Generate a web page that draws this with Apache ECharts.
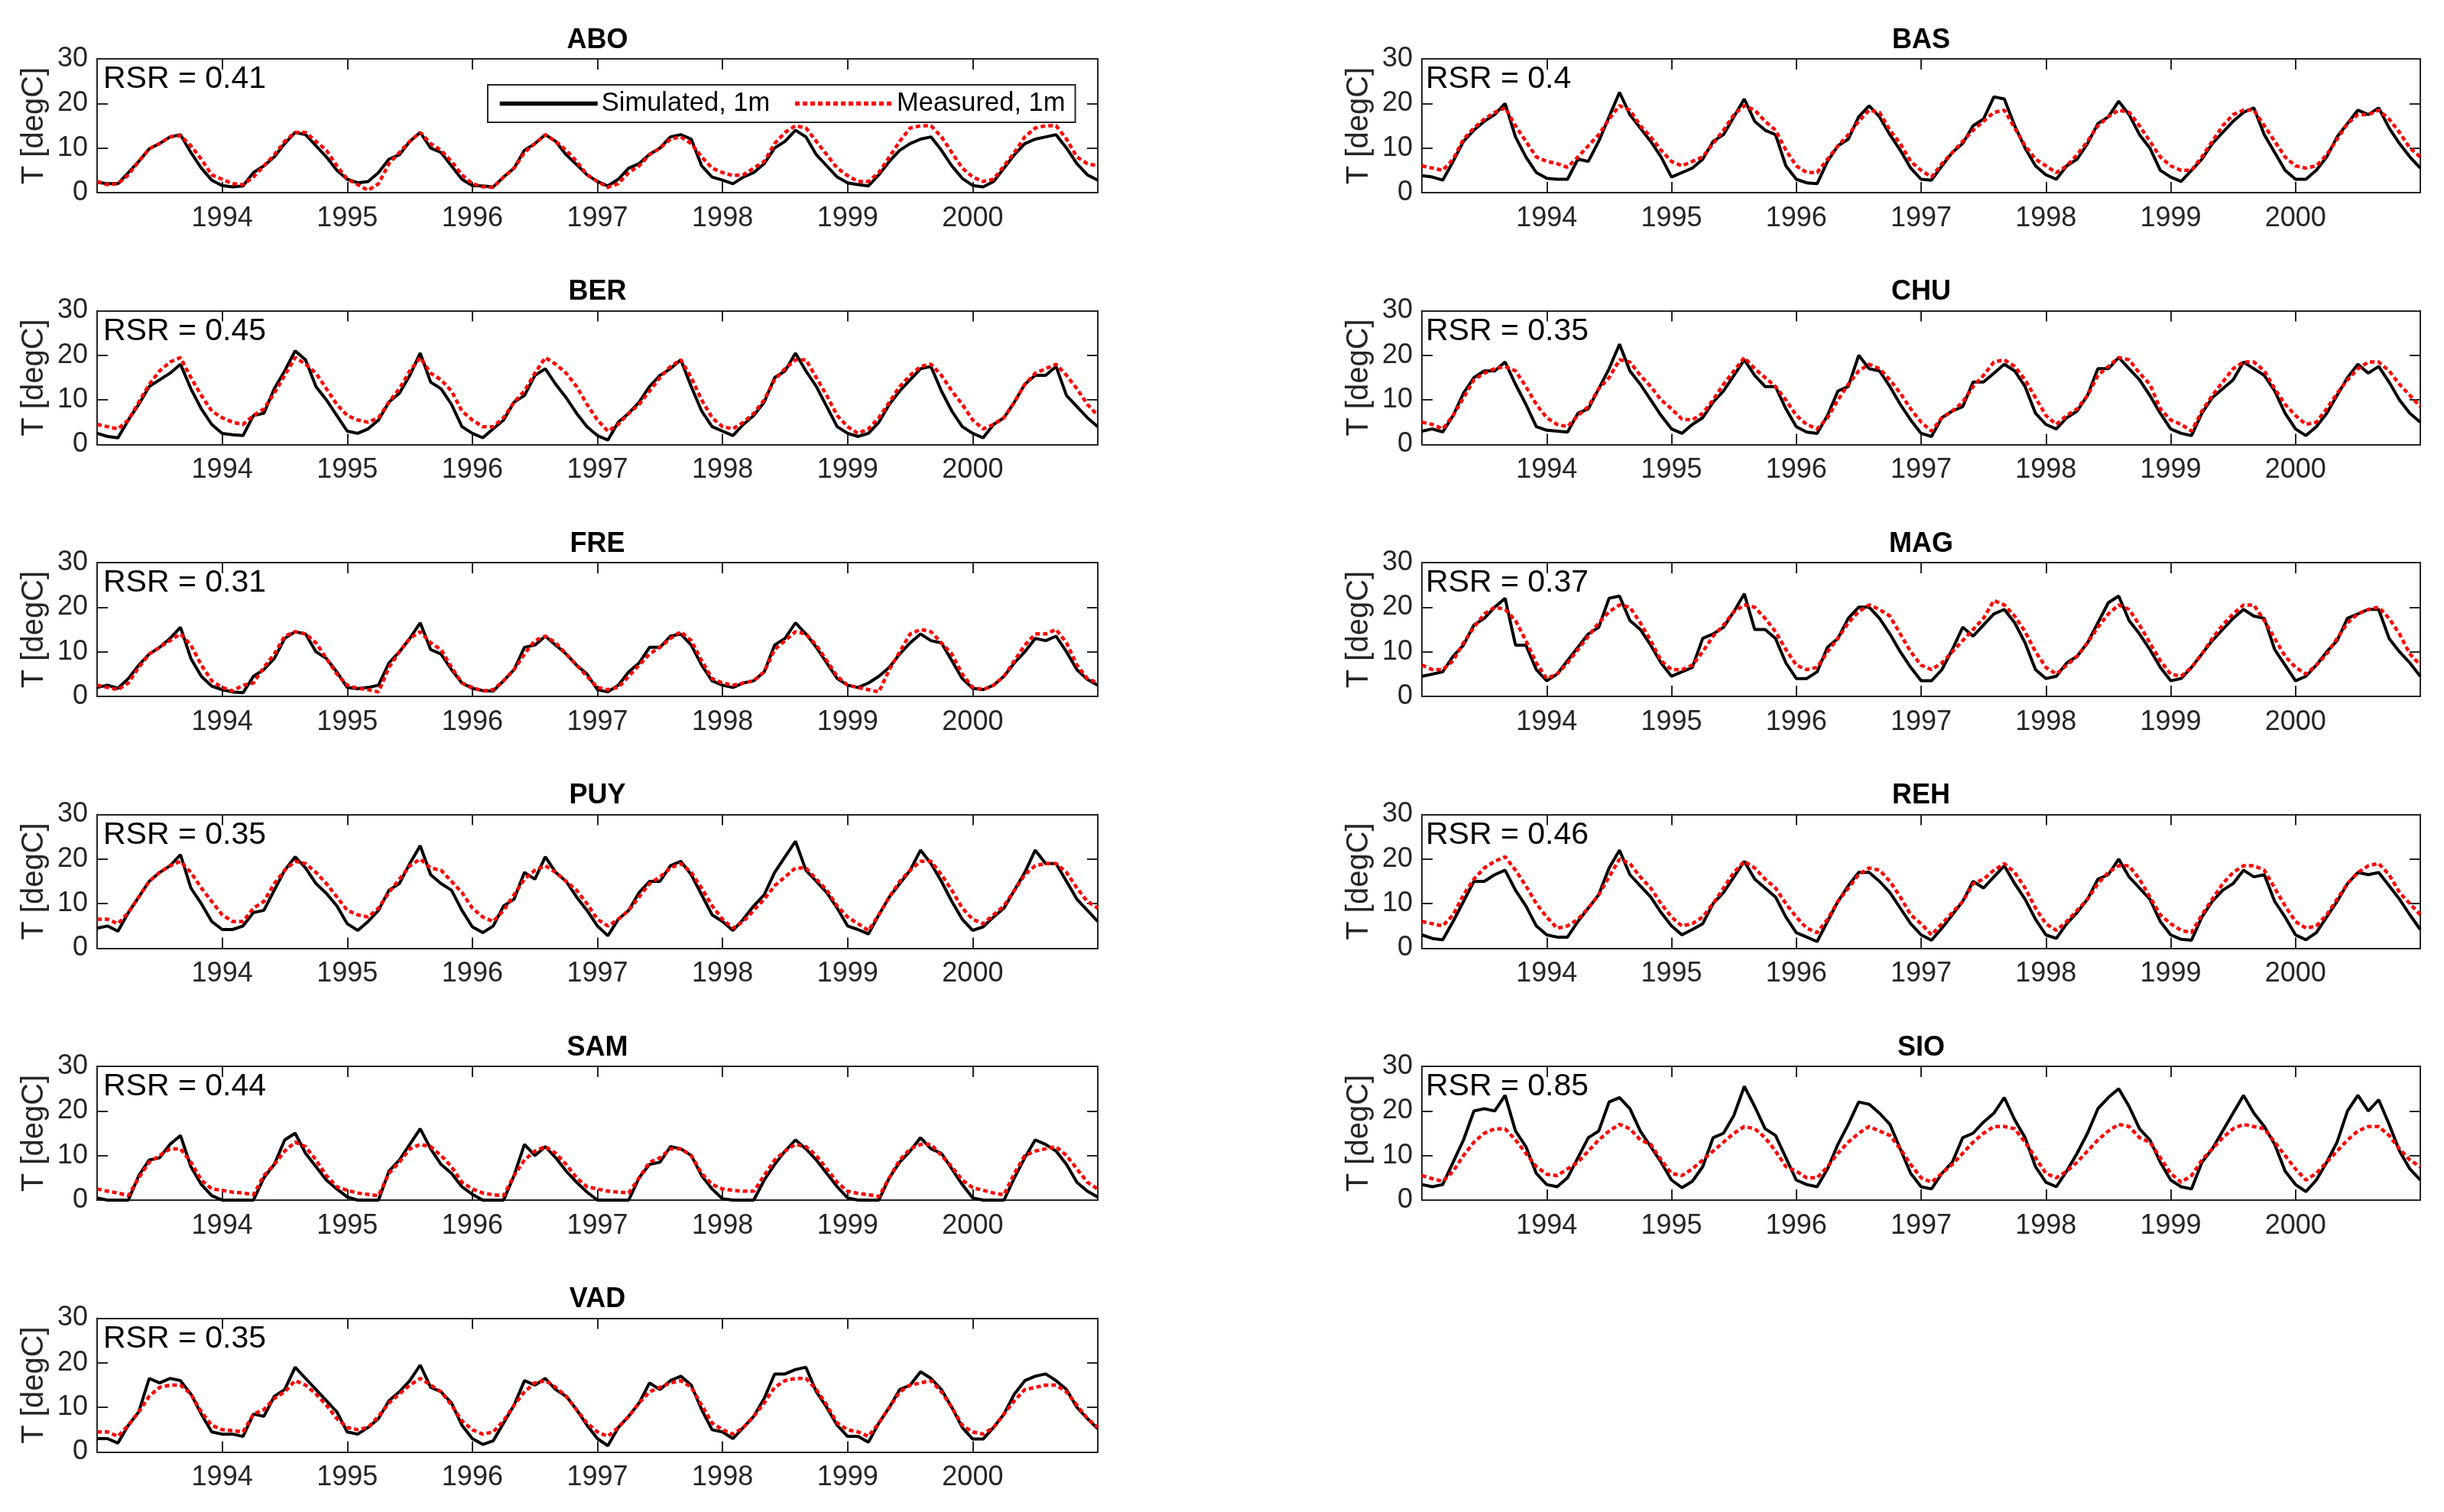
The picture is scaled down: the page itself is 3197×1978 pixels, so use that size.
<!DOCTYPE html>
<html><head><meta charset="utf-8">
<script src="https://cdn.jsdelivr.net/npm/echarts@6/dist/echarts.min.js"></script>
<style>html,body{margin:0;padding:0;background:#fff}#c{width:3197px;height:1978px}</style>
</head><body><div id="c"></div>
<script>
// ---------------- data ----------------
const stations = ['ABO','BAS','BER','CHU','FRE','MAG','PUY','REH','SAM','SIO','VAD'];
const rsrValues = ['0.41','0.4','0.45','0.35','0.31','0.37','0.35','0.46','0.44','0.85','0.35'];
const startYear = 1993, endYear = 2001;       // monthly samples, first day of each month
const yTicks = [0, 10, 20, 30];

const ABO_sim = [2.3,2,2,4.5,7,9.8,11,12.5,13,9,5.5,2.8, 1.6,1.3,1.5,4.5,6,8,11,13.5,13,10.5,8,5, 3,2.2,2.5,4.5,7.5,8.5,11.5,13.5,10,9,6,3, 1.6,1.5,1.3,3.5,5.5,9.5,11,13,11.5,8.5,6.3,4, 2.5,1.5,3,5.5,6.5,8.6,10,12.5,13,12,6,3.5, 2.8,2,3.5,4.5,6.5,10,11.5,14,12.5,8.5,6,3.5, 2.2,1.8,1.5,4,7,9.5,11,12,12.5,9.5,6,3.2, 1.6,1.3,2.5,5.5,8.5,11,12,12.5,13,10,6.5,4, 2.8];
const ABO_meas = [2.5,1.8,2,4,7,9.8,11,12.5,12.8,10.5,7.5,4, 3,2,1.8,3.5,6,8.5,11.5,13.5,13.5,11.5,9.5,6, 3,1.8,0.5,2,6.5,9,11.5,13.5,11,9.5,7,4, 2,1.3,1.2,3.5,5.5,9,11,13,11.5,9.5,7,4, 2.5,1.2,2,4.5,6,8.5,10,12,12.5,11,8,5.5, 4.5,3.8,4,5.5,7,11,13.5,15,14.5,11.5,8.5,5.5, 3.8,2.5,2.5,4.5,8,11.5,14.5,15,15,12.5,9,5.5, 3.5,2.5,3,6,9,12.5,14.5,15,15,12,8,6.5, 6];

const BAS_sim = [3.8,3.5,2.8,7,11.5,14,16,17.5,20,12.5,8,4.5, 3.2,3,3,7.5,7,11.5,17,22.5,17.5,14.5,11.5,8, 3.5,4.5,5.5,7.5,11.5,13,17,21,16,14,13,6, 3,2.2,2,7,10.5,12,17,19.5,17,13,9.5,5.5, 3,2.8,6,9,11,15,16.5,21.5,21,15,10,6, 4,3,6,7.5,11,15.5,17,20.5,17.5,13,10,5, 3.5,2.5,5,7.5,11,13.5,16,18,19,13,9,5, 3,3,5,8,12.5,15.5,18.5,17.5,19,14.5,11,8, 5.5];
const BAS_meas = [6,5.5,5,7.5,12,14.5,16.5,18,19,15,11.5,8, 7,6.5,5.7,8,10.5,13,16.5,19.5,18.5,15,12.5,9.5, 7,6,7,8,11,14,17.5,19.5,18.5,16,14,9.5, 6,4.5,4.5,7.5,10.5,13,16,18.5,18,14,11,7, 5,3.5,6.5,9,11.5,14,16,18,18.5,14.5,10.5,7.5, 6,4.5,6,8.5,11.5,15,17,18.5,18,15,11.5,8, 6,5,5,8,11.5,15,17.5,18.5,18.5,15,11.5,8, 6,5.5,6,8.5,12,15.5,17.5,17.5,18.5,16.5,13.5,10, 8];

const BER_sim = [2.5,1.8,1.5,5.5,9,13,14.5,16,18,12.5,8,4.5, 2.5,2.2,2,6.5,7,12.5,16.5,21,19,13,10,6.5, 3,2.5,3.5,5.5,9.5,11.5,15.5,20.5,14,12.5,9,4, 2.5,1.5,3.5,5.5,9.5,11,15.5,17,13.5,10.5,7,4, 2,1,5,7,9.5,13,15.5,17,19,13,7.5,4, 3,2,4.5,6.5,9.5,15,16.5,20.5,16.5,13,8.5,4, 2.5,1.8,2.5,5,9,12,14.5,17,17.5,12,7.5,4, 2.5,1.5,4.5,6,9.5,13.5,15.5,15.5,17.5,11,8.5,6, 4];
const BER_meas = [4.5,4,3.5,5.5,9.5,13.5,16.5,18.5,19.5,15,11,7.5, 6,5,4.5,6.5,8,11.5,15.5,19.5,18,16,12.5,9, 6.5,5.5,5,6,9.5,12.5,16.5,19.5,16,14.5,12,7.5, 5.5,4,4,6,9.5,12,16,19.5,18,16,13,9, 5.5,3,4.5,7,9,12,15,17.5,19,15,10,6, 4,3.5,5,7,10,14.5,17,19,19,15,11,6.5, 4,2.5,3.5,6,9.5,13,15.5,17.5,18,15.5,12,9, 5.5,3.5,4.5,6,9.5,13.5,16,17,18,15.5,12.5,9, 6.5];

const CHU_sim = [3,3.5,2.8,6.5,11.5,15,16.5,16.5,18.5,13.5,9,4, 3.2,3,2.8,7,8,12.5,17,22.5,16.5,13.5,10,6.5, 3.5,2.5,4.5,6,9.5,12,15.5,19,15.5,13,13,8, 4,2.8,2.5,6.5,12,13,20,17,16.5,13,9,5.5, 2.5,1.8,6,7.5,8.5,14,14,16,18,16.5,13,7, 4.5,3.5,6,7.5,11,17,17,19.5,17,14.5,11,7, 3.5,2.5,2,7,10.5,12.5,14.5,18.5,17,15.5,12,7, 3.5,2,4,7,11,15,18,16,17.5,14,10,7, 5];
const CHU_meas = [5,4.5,3.5,6.5,10.5,14.5,16,17,17.5,16.5,13,9, 6,4.5,4,6.5,8.5,12.5,15,19,18.5,15.5,13,10, 8,5.7,5.5,7,10,13.5,16.5,19.5,17,15,13,10, 6.5,4.5,3.5,6,10,13.5,16.5,18,17,14.5,11.5,8, 5,3,6,7.5,9.5,13,15.5,18.5,19,17.5,14.5,10.5, 6.5,4.5,6.5,8,11,15.5,17.5,19.5,19,16,13.5,8, 5.5,4.5,3,7.5,11,14,17,18.5,18.5,16.5,12.5,9, 6.5,4.5,5,8,11.5,14.5,17,18.5,18.5,16.5,13.5,11, 8.5];

const FRE_sim = [2,2.5,1.8,4,7,9.5,11,13,15.5,8.5,4.5,2.3, 1.5,1,0.8,4.5,6,8.5,13,14.5,14,10,8.5,5.5, 2,1.7,2,2.5,7.5,10,13,16.5,10.5,9.5,6,3, 1.8,1.3,1.2,3.5,6,11,11.5,13.5,11.5,9.5,7,5, 1.5,1,2.5,5.5,7.5,11,11,13.5,14,11.5,7,3.5, 2.5,2,3,3.5,5.5,11.5,13,16.5,14,11,7.5,4, 2.5,2,3,4.5,6.5,9.5,12,14,12.5,12,8,4, 1.8,1.5,2.5,4.5,7.5,10,13,12.5,13.5,10,6,3.8, 2.5];
const FRE_meas = [2.5,2,1.5,3,6.5,9.5,11,12.5,14,11.5,7,3.5, 2,1.2,2.5,3,6.5,9.5,13.5,14.5,14,12,8.5,5, 2.5,1.8,1.5,1,6.5,10,13,14.5,12,10.5,6.5,3, 2,1.2,1.5,3.5,6,9.5,12.5,13.5,12,9.5,7,4.5, 2,1.5,2,4.5,7,9.5,11,13,14.5,12.5,8,4, 3,2.5,3,3.5,5.5,10.5,12.5,14.5,14,11.5,8,4.5, 2.5,2,1.5,1,6,10,14,15,14.5,12,9.5,5, 2,1.5,2.5,4.5,8,11.5,14,14,15,12,7,4, 3];

const MAG_sim = [4.5,5,5.5,9,11.5,16,17.5,20,22,11.5,11.5,6, 3.5,5,8,11,14,15.5,22,22.5,17,15,11.5,7.5, 4.5,5.5,6.5,13,14,15.5,19,23,15,15,13,7.5, 4,4,5.5,11,13,17.5,20,20,17.5,14,10,6.5, 3.5,3.5,6,10.5,15.5,13.5,16,18.5,19.5,16.5,12,6, 4,4.5,7.5,9,12,16.5,21,22.5,17,14,10.5,6.5, 3.5,4,6.5,9.5,12.5,15,17.5,19.5,18,17.5,10.5,7, 3.5,4.5,7,10,12.5,17.5,18.5,19.5,19.5,13,10,7.5, 4.5];
const MAG_meas = [7,6,6,8,12,15.5,18.5,20,19.5,17,12.5,7.5, 4,5,7.5,10.5,13.5,16.5,19,20.5,20,16.5,12.5,8, 6,6,7,10,13.5,16,19,20.5,20,17.5,14.5,10.5, 7,6,6.5,10,13,16.5,19,20.5,19.5,18,14,10, 7,6,7.5,10,12.5,15,17.5,21.5,20.5,18,14.5,10, 6.5,5,7,9,12,15.5,18.5,20.5,19.5,16,12,8, 5,4.5,6.5,9.5,13,16,18.5,20.5,20.5,17,13,9, 6.5,5,7,9.5,13,16.5,18.5,19.5,20,17.5,14,9.5, 7];

const PUY_sim = [4.5,5,3.8,8,11.5,15,17,18.5,21,13.5,10,6, 4.2,4.2,5,8,8.5,13,17.5,20.5,18,14.5,12.3,9.5, 5.5,4,6,8.5,13,14.5,19,23,16.5,14.5,13,8.5, 4.8,3.5,5,9.5,11,17,15.5,20.5,17,15,11.5,8.5, 5,2.8,6.5,8.5,12.5,15,15,18.5,19.5,16.5,12,7.5, 6,4,6.5,9.5,12,17,20.5,24,17.5,15,12.5,9, 5,4.2,3.2,7.5,11.5,14.5,17.5,22,19,15,10.5,6.5, 4,4.8,7,9,13,17,22,19,19,15,11,8.5, 6];
const PUY_meas = [6.5,6.5,5.5,8,11.5,15,17,18.5,19.5,17,13.5,10.5, 7.5,6,6,9,10.5,14.5,17.5,19.5,19,17,14.5,11.5, 8.5,7.5,7,9,12.5,15.5,18.5,20,18,17.5,15,12.5, 9,7,6,8.5,12,15.5,17.5,18.5,17,15,13,10, 6.5,5,6.5,8.5,11.5,14.5,16,18,19,17,13.5,9.5, 6.5,4.5,6,8.5,11,14,16,18,18,15.5,13,9.5, 7,5.5,4,7.5,11.5,15,17.5,19.5,19.5,16.5,13,9, 6.5,5.5,7.5,9.5,13,16.5,18.5,19,19,17,13.5,10.5, 9];

const REH_sim = [3,2.2,1.9,6,10.5,15,15,16.5,17.5,13,9.5,5, 3,2.5,2.5,6,9,12,18,22,16.5,14,11.5,8, 5,3,4.2,5.5,10,12.5,16,19.5,15.5,13.5,11.5,7, 3.5,2.5,1.5,6,10.5,14,17,17,15,12.5,9,5.5, 3,1.8,4.5,7.5,10.5,15,13.5,16,18.5,14.5,11,6.5, 3,2.2,5.5,8,11,15.5,16.5,20,16,13.5,11,6, 3,2,1.8,7,10.5,13,14.5,17.5,16,16.5,10.5,7, 3,1.9,3.5,7,10.5,14.5,17,16.5,17,14,11,7.5, 4.2];
const REH_meas = [6,5.5,5,7.5,12,15.5,18,19.5,20.5,17.5,14,10, 7,4.5,5,6.5,9,12,16,20,19,16,13.5,10, 7,5,5.5,7,10,13.5,17,19.5,18,15.5,13.5,10, 7,4.5,3.5,6.5,10.5,13.5,16.5,18,17.5,15,11.5,7.5, 5.5,3,5.5,8,10.5,14.5,15.5,17.5,19,17,13.5,9, 5.5,4,6,8.5,11,14.5,17,18.5,18.5,15.5,11.5,7.5, 5.5,4,3.5,7.5,11,14.5,17,18.5,18.5,17.5,13.5,9.5, 6,4.5,5,7.5,11,14.5,17,18.5,19,16.5,12.5,10, 7.5];

const SAM_sim = [0.5,0,0,0,5.5,9,9.5,12.5,14.5,7.5,3.5,1, 0,0,0,0,5,8,13.5,15,10.5,7.5,4.5,2.5, 0.7,0,0,0,6.5,9,12.5,16,11.5,8,6,3, 1.3,0,0,0,5.5,12.5,10,12,9.5,6.5,4,1.8, 0,0,0,0,5,8,8.5,12,11.5,10,5.5,2.5, 0.3,0,0,0,4.5,8,11,13.5,11.5,9,6,3, 0.5,0,0,0,5,8.5,11,14,11.5,10.5,7,3.5, 0.5,0,0,0,5,9.5,13.5,12.5,11,8,4,2, 0.7];
const SAM_meas = [2.5,2,1.6,1,5,8.5,10,11.5,11.5,8.5,4.5,2.5, 2.2,1.8,1.6,1.2,5.5,8,11,13,12,9,5.5,3, 2.2,1.6,1.3,1,6,8.5,11.5,12.5,12,10,7.5,4, 2.5,1.6,1.2,1,5.5,9,11,12,10.5,8,5,3, 2.5,2,1.8,1.6,5,8.5,9.5,11.5,11.5,10,6,3.5, 2.5,2.2,2,2,5.5,9,11,12.5,12,10,7,4, 2,1.5,1.2,0.8,5,9,11.5,12.5,12.5,10,7.5,4.5, 2.8,2.2,1.6,1.2,6,10,11,11.5,12,10,7,4, 2.5];

const SIO_sim = [3.5,3,3.5,8.5,13.5,20,20.5,20,23.5,15.5,12,6, 3.5,3,5,9.5,14,15.5,22,23,20.5,15.5,12,8.5, 4.5,2.8,4.2,7.5,14,15,19,25.5,21,16,14.5,9.5, 4.5,3.5,3,7,12.5,17,22,21.5,19.5,17,11.5,6, 3,2.5,6,8.5,14,15,17.5,19.5,23,18,14,7.5, 4,3,6.5,10.5,15,20.5,23,25,21,16,13.5,8.5, 4.5,3,2.5,8.5,11.5,15.5,19.5,23.5,19.5,16.5,12.5,6.5, 3.5,1.9,4.5,8.5,13,20,23.5,20,22.5,17,11,7, 4.5];
const SIO_meas = [5.5,4.8,4.2,6.5,10,13,15,16,16,13.5,10.5,7.5, 5.8,5.5,7,8.5,11,13.5,15.5,17,16,13.5,12.5,9, 6,5.5,7,9,11,13,15,16.5,16,14,11,7.5, 6.5,5,5,7.5,10.5,13,15,16.5,15.5,14.5,11.5,8, 5,4,6,8,10.5,13,15,16.5,16.5,16,13,9.5, 6,5,6.5,8.5,11,13.5,15.5,17,16.5,14,13,9.5, 6,4,5.5,9,11.5,14,16,17,16.5,16,13,10, 7,4.5,6,8.5,11,13.5,15.5,16.5,16.5,14.5,11.5,9, 7.5];

const VAD_sim = [3,3,2,6,9,16.5,15.5,16.5,16,13,8.5,4.5, 4,4,3.5,8.5,8,12.5,14,19,16.5,14,11.5,9, 4.5,4,5.5,7.5,11.5,13.5,16,19.5,14.5,13.5,11,6, 3,1.7,2.5,6.5,10.5,16,15,16.5,14,12.5,9.5,6, 3,1.4,5.5,8,11,15.5,14,16,17,15,9.5,5, 4.5,3,5.5,8,12,17.5,17.5,18.5,19,13.5,10,6, 3.5,3.5,2.2,6.5,10,14,15,18,16.5,14,10,5.5, 2.9,2.9,5.5,8.5,13,16,17,17.5,16,14,10,7.5, 5.2];
const VAD_meas = [4.5,4.5,3.5,6,9,12.5,14.5,15,15,13,9,6, 5,4.8,4.5,8.5,9.5,12,13.5,16,15,13,10.5,7.5, 5.5,5,5.5,8,11,13,15,16.5,15,13.5,10.5,7, 5,4,4.5,7,10.5,13.5,15.5,16,14.5,12.5,9.5,6.5, 4.5,3.5,5.5,8,11,13.5,14.5,15.5,16,14.5,10.5,6.5, 5,4,5.5,8,11,14.5,16,16.5,16.5,14,10.5,6.5, 5,4.5,3.5,6.5,10,13.5,15,15.5,16,13.5,10,6, 4.5,4,5.5,8.5,11.5,14,14.5,15,15,13.5,10.5,7.5, 5.5];

const simulated = [ABO_sim, BAS_sim, BER_sim, CHU_sim, FRE_sim, MAG_sim, PUY_sim, REH_sim, SAM_sim, SIO_sim, VAD_sim];
const measured  = [ABO_meas, BAS_meas, BER_meas, CHU_meas, FRE_meas, MAG_meas, PUY_meas, REH_meas, SAM_meas, SIO_meas, VAD_meas];

// ---------------- layout / style ----------------
const FONT = '"Liberation Sans", Arial, Helvetica, sans-serif';
const AX = '#262626';
const colLeft = [127, 1860], colWidth = [1309, 1306];
const rowTop0 = 77, rowStep = 329.5, plotH = 175;

const toPairs = arr => arr.map((v, m) => [startYear + m / 12, v]);

const grid = [], xAxis = [], yAxis = [], series = [], graphic = [];
const axLine = {show: true, onZero: false, lineStyle: {color: AX, width: 2}};
const axTick = {show: true, inside: true, length: 14, lineStyle: {color: AX, width: 2}};

stations.forEach((name, i) => {
  const col = i % 2, row = Math.floor(i / 2);
  const left = colLeft[col], width = colWidth[col], top = rowTop0 + row * rowStep;
  grid.push({left: left, top: top, width: width, height: plotH, show: false});
  xAxis.push({gridIndex: i, type: 'value', min: startYear, max: endYear, interval: 1, position: 'bottom',
    axisLine: axLine, axisTick: axTick, splitLine: {show: false},
    axisLabel: {show: true, showMinLabel: false, showMaxLabel: false, margin: 16, color: AX,
      fontSize: 36, fontFamily: FONT, formatter: v => String(v)}});
  xAxis.push({gridIndex: i, type: 'value', min: startYear, max: endYear, interval: 1, position: 'top',
    axisLine: axLine, axisTick: axTick, splitLine: {show: false}, axisLabel: {show: false}});
  yAxis.push({gridIndex: i, type: 'value', min: yTicks[0], max: yTicks[yTicks.length - 1], interval: 10, position: 'left',
    name: 'T [degC]', nameLocation: 'middle', nameGap: 62,
    nameTextStyle: {fontSize: 40, color: AX, fontFamily: FONT},
    axisLine: axLine, axisTick: axTick, splitLine: {show: false},
    axisLabel: {margin: 12, color: AX, fontSize: 36, fontFamily: FONT}});
  yAxis.push({gridIndex: i, type: 'value', min: yTicks[0], max: yTicks[yTicks.length - 1], interval: 10, position: 'right',
    axisLine: axLine, axisTick: axTick, splitLine: {show: false}, axisLabel: {show: false}});

  series.push({type: 'line', name: 'Simulated, 1m', xAxisIndex: 2 * i, yAxisIndex: 2 * i,
    data: toPairs(simulated[i]), symbol: 'none', smooth: false, z: 3,
    lineStyle: {color: '#000000', width: 4}, itemStyle: {color: '#000000'}});
  series.push({type: 'line', name: 'Measured, 1m', xAxisIndex: 2 * i, yAxisIndex: 2 * i,
    data: toPairs(measured[i]), symbol: 'none', smooth: false, z: 4,
    lineStyle: {color: '#ff0000', width: 4.5, type: [6, 4]}, itemStyle: {color: '#ff0000'}});

  graphic.push({type: 'text', x: left + width / 2, y: top - 24, z: 10,
    style: {text: name, fill: '#000', font: 'bold 36px ' + FONT, align: 'center', verticalAlign: 'middle'}});
  graphic.push({type: 'text', x: left + (col === 0 ? 8 : 5), y: top + 27, z: 1,
    style: {text: 'RSR = ' + rsrValues[i], fill: '#000', font: '41px ' + FONT, align: 'left', verticalAlign: 'middle'}});
});

const chart = echarts.init(document.getElementById('c'));
chart.setOption({
  animation: false,
  backgroundColor: '#ffffff',
  grid: grid, xAxis: xAxis, yAxis: yAxis, series: series, graphic: graphic,
  legend: {data: ['Simulated, 1m', 'Measured, 1m'], left: 638, top: 111, orient: 'horizontal',
    itemWidth: 128, itemHeight: 14, itemGap: 30, padding: [7, 13, 7, 13],
    backgroundColor: '#ffffff', borderColor: AX, borderWidth: 2, borderRadius: 0,
    selectedMode: false, lineStyle: {width: 5.5},
    itemStyle: {opacity: 0, borderWidth: 0},
    textStyle: {fontSize: 34.5, color: '#000', fontFamily: FONT}}
});
</script></body></html>
